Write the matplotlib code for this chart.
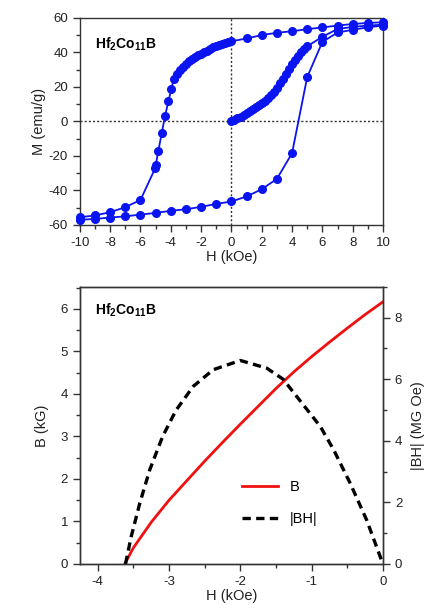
import matplotlib
matplotlib.use("Agg")
import matplotlib.pyplot as plt
from matplotlib.ticker import MultipleLocator

plt.rcParams['font.family'] = ['Liberation Sans', 'DejaVu Sans']
plt.rcParams['mathtext.fontset'] = 'custom'
plt.rcParams['mathtext.rm'] = 'Liberation Sans'
plt.rcParams['mathtext.bf'] = 'Liberation Sans:bold'
plt.rcParams['axes.unicode_minus'] = False

# --- hysteresis loop M(H) ---
# virgin curve
h_virgin = [0.0, 0.2, 0.4, 0.6, 0.8, 1.0, 1.2, 1.4, 1.6, 1.8, 2.0, 2.2, 2.4, 2.6, 2.8,
            3.0, 3.2, 3.4, 3.6, 3.8, 4.0, 4.2, 4.4, 4.6, 4.8, 5.0,
            6.0, 7.0, 8.0, 9.0, 10.0]
m_virgin = [0.0, 0.9, 1.8, 2.8, 3.8, 4.9, 5.9, 7.0, 8.1, 9.3, 10.5, 12.0, 13.6, 15.3, 17.3,
            19.5, 22.0, 24.6, 27.4, 30.2, 33.0, 35.5, 37.9, 40.0, 42.0, 43.5,
            49.0, 53.5, 54.7, 55.5, 56.0]
# descending branch
h_down = [10.0, 9.0, 8.0, 7.0, 6.0, 5.0, 4.0, 3.0, 2.0, 1.0, 0.0,
          -0.2, -0.4, -0.6, -0.8, -1.0, -1.2, -1.4, -1.6, -1.8, -2.0,
          -2.2, -2.4, -2.6, -2.8, -3.0, -3.2, -3.4, -3.6, -3.8,
          -3.96, -4.16, -4.38, -4.6, -4.82, -5.0, -5.02, -6.0, -7.0, -8.0, -9.0, -10.0]
m_down = [57.4, 57.0, 56.4, 55.5, 54.4, 53.4, 52.2, 51.3, 50.0, 48.0, 46.4,
          46.0, 45.5, 44.9, 44.2, 43.6, 43.0, 41.9, 41.0, 40.2, 39.2,
          38.2, 37.2, 36.1, 34.9, 33.4, 31.6, 30.0, 27.7, 24.8,
          18.8, 11.6, 3.1, -6.8, -17.0, -25.5, -27.0, -45.5, -49.7, -52.6, -54.5, -55.5]
# ascending branch
h_up = [-10.0, -9.0, -8.0, -7.0, -6.0, -5.0, -4.0, -3.0, -2.0, -1.0, 0.0,
        1.0, 2.0, 3.0, 4.0, 5.0, 6.0, 7.0, 8.0, 9.0, 10.0]
m_up = [-57.0, -56.5, -55.7, -55.0, -54.0, -53.0, -51.8, -50.9, -49.5, -47.8, -46.4,
        -43.5, -39.3, -33.3, -18.4, 25.7, 46.0, 51.5, 53.0, 54.5, 55.5]

# --- second quadrant B(H) and |BH| ---
h_b = [-3.62, -3.5, -3.25, -3.0, -2.75, -2.5, -2.25, -2.0, -1.75, -1.5, -1.25,
       -1.0, -0.75, -0.5, -0.25, 0.0]
b_val = [0.0, 0.38, 0.98, 1.50, 1.96, 2.42, 2.86, 3.29, 3.71, 4.13, 4.52,
         4.88, 5.22, 5.55, 5.87, 6.17]
h_bh = [-3.61, -3.53, -3.41, -3.27, -3.09, -2.9, -2.66, -2.38, -2.0, -1.63,
        -1.4, -1.21, -0.88, -0.69, -0.46, -0.23, -0.04, 0.0]
bh_val = [0.0, 0.89, 1.97, 3.06, 4.14, 5.0, 5.77, 6.31, 6.61, 6.36,
          6.0, 5.44, 4.47, 3.7, 2.62, 1.43, 0.24, 0.0]

blue = '#0a14f0'
red = '#f01010'

fig = plt.figure(figsize=(4.27, 6.13), dpi=100)
ax1 = fig.add_axes([0.187, 0.633, 0.710, 0.338])
ax2 = fig.add_axes([0.187, 0.080, 0.710, 0.452])


def style(ax):
    for s in ax.spines.values():
        s.set_color('#333333')
        s.set_linewidth(1.0)
    ax.tick_params(which='major', direction='out', length=5, width=1, labelsize=9.5,
                   colors='#333333', labelcolor='#222222')
    ax.tick_params(which='minor', direction='out', length=3, width=1, colors='#333333')


ax1.axhline(0, color='#333333', ls=(0, (1.5, 1.5)), lw=1)
ax1.axvline(0, color='#333333', ls=(0, (1.5, 1.5)), lw=1)
kw = dict(color=blue, marker='o', ms=5.5, lw=1.3, clip_on=False, zorder=3)
ax1.plot(h_virgin, m_virgin, **kw)
ax1.plot(h_down, m_down, **kw)
ax1.plot(h_up, m_up, **kw)
ax1.set_xlim(-10, 10)
ax1.set_ylim(-60, 60)
ax1.xaxis.set_major_locator(MultipleLocator(2))
ax1.xaxis.set_minor_locator(MultipleLocator(1))
ax1.yaxis.set_major_locator(MultipleLocator(20))
ax1.yaxis.set_minor_locator(MultipleLocator(10))
style(ax1)
ax1.set_xlabel('H (kOe)', fontsize=10.5, labelpad=1, color='#222222')
ax1.set_ylabel('M (emu/g)', fontsize=10.5, labelpad=2, color='#222222')
ax1.text(0.05, 0.85, r'$\mathbf{Hf_2Co_{11}B}$', transform=ax1.transAxes, fontsize=10)

ax2.plot(h_b, b_val, color=red, lw=2, label='B')
ax2.set_xlim(-4.25, 0)
ax2.set_ylim(0, 6.52)
ax2.xaxis.set_major_locator(MultipleLocator(1))
ax2.xaxis.set_minor_locator(MultipleLocator(0.5))
ax2.yaxis.set_major_locator(MultipleLocator(1))
ax2.yaxis.set_minor_locator(MultipleLocator(0.5))
style(ax2)
ax2.set_xlabel('H (kOe)', fontsize=10.5, labelpad=1, color='#222222')
ax2.set_ylabel('B (kG)', fontsize=10.5, labelpad=8, color='#222222')
ax2.text(0.05, 0.9, r'$\mathbf{Hf_2Co_{11}B}$', transform=ax2.transAxes, fontsize=10)

ax3 = ax2.twinx()
ax3.plot(h_bh, bh_val, color='black', lw=2.4, ls=(0, (2.5, 1.6)), label='|BH|')
ax3.set_ylim(0, 9.0)
ax3.yaxis.set_major_locator(MultipleLocator(2))
ax3.yaxis.set_minor_locator(MultipleLocator(1))
style(ax3)
ax3.set_ylabel('|BH| (MG Oe)', fontsize=10.5, labelpad=6, color='#222222')

h1, l1 = ax2.get_legend_handles_labels()
h2, l2 = ax3.get_legend_handles_labels()
ax3.legend(h1 + h2, l1 + l2, loc='center left', bbox_to_anchor=(0.49, 0.22),
           frameon=False, fontsize=10.5, handlelength=2.5, labelspacing=1.2)

fig.savefig('out.png', dpi=100)
